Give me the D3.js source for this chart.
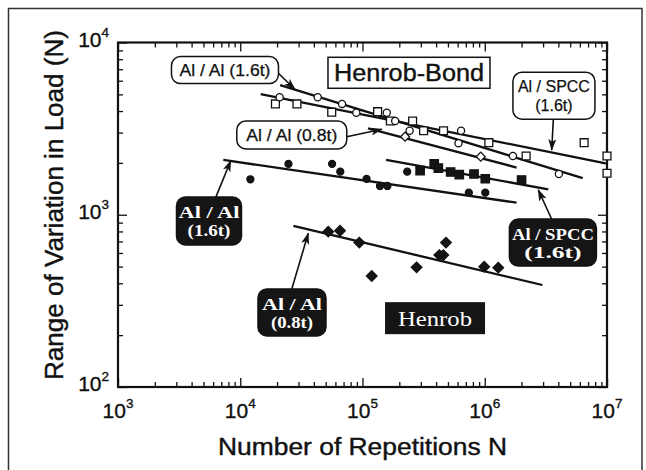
<!DOCTYPE html>
<html><head><meta charset="utf-8">
<script src="https://cdn.jsdelivr.net/npm/d3@7"></script>
<style>body{margin:0;background:#fff}svg{display:block}</style>
</head><body>
<svg id="c" width="646" height="470"></svg>
<script>
// ---------- data (N = repetitions, L = load range in N) ----------
// Henrob-Bond, Al/Al (1.6t) : open circles
const bondAlAl16N = [2.1e4, 4.3e4, 6.8e4, 8.9e4, 1.58e5, 1.85e5, 2.43e5, 6.1e5, 6.4e5, 1.7e6, 4.04e6];
const bondAlAl16L = [4810, 4810, 4400, 3910, 3910, 3500, 3075, 2600, 3075, 2193, 1725];
// Henrob-Bond, Al/SPCC (1.6t) : open squares
const bondSpccN = [1.94e4, 2.91e4, 5.6e4, 1.33e5, 1.69e5, 2.57e5, 3.16e5, 4.6e5, 1.08e6, 2.18e6, 6.5e6, 1.0e7, 1.0e7];
const bondSpccL = [4400, 4400, 3940, 3965, 3500, 3500, 3075, 3075, 2620, 2193, 2620, 2193, 1742];
// Henrob-Bond, Al/Al (0.8t) : open diamonds
const bondAlAl08N = [2.23e5, 9.27e5];
const bondAlAl08L = [2840, 2174];
// Henrob, Al/Al (1.6t) : filled circles
const henAlAl16N = [1.21e4, 2.48e4, 5.64e4, 6.58e4, 1.08e5, 1.39e5, 1.6e5, 2.32e5, 7.41e5, 1.01e6];
const henAlAl16L = [1607, 1972, 1972, 1778, 1614, 1469, 1469, 1778, 1343, 1343];
// Henrob, Al/SPCC (1.6t) : filled squares
const henSpccN = [2.96e5, 3.86e5, 4.17e5, 5.26e5, 6.19e5, 8.17e5, 1.01e6, 2.0e6];
const henSpccL = [1803, 1972, 1866, 1771, 1710, 1725, 1618, 1592];
// Henrob, Al/Al (0.8t) : filled diamonds
const henAlAl08N = [5.25e4, 6.55e4, 9.42e4, 1.19e5, 2.77e5, 4.25e5, 4.58e5, 4.82e5, 9.9e5, 1.29e6];
const henAlAl08L = [798, 807, 689, 441, 495, 583, 583, 689, 499, 493];

// fitted lines: [startN, endN], [startL, endL]
const fitBondAlAl16N = [2.12e4, 6.33e6], fitBondAlAl16L = [5660, 1630];
const fitBondSpccN   = [1.47e4, 9.75e6], fitBondSpccL   = [5020, 1990];
const fitBondAlAl08N = [1.11e5, 1.82e6], fitBondAlAl08L = [3170, 1880];
const fitHenAlAl16N  = [7.27e3, 1.82e6], fitHenAlAl16L  = [2080, 1175];
const fitHenSpccN    = [1.56e5, 3.31e6], fitHenSpccL    = [2080, 1405];
const fitHenAlAl08N  = [2.72e4, 2.96e6], fitHenAlAl08L  = [861, 391];

// tick labels
const xTickVals = [1e3, 1e4, 1e5, 1e6, 1e7];
const xTickExp  = ["3", "4", "5", "6", "7"];
const yTickVals = [1e2, 1e3, 1e4];
const yTickExp  = ["2", "3", "4"];

const xTitle = "Number of Repetitions N";
const yTitle = "Range of Variation in Load (N)";

// annotations: label lines, centre (N, L), arrow tail (N, L), arrow tip (N, L)
const annLabels = [["Al / Al (1.6t)"], ["Al / SPCC", "(1.6t)"], ["Al / Al (0.8t)"],
                   ["Al / Al", "(1.6t)"], ["Al / Al", "(0.8t)"], ["Al / SPCC", "(1.6t)"]];
const annCenterN = [7.5e3, 3.68e6, 2.64e4, 5.55e3, 2.65e4, 3.61e6];
const annCenterL = [6920, 4910, 2905, 921, 271, 689];
const annTailN = [1.99e4, 3.64e6, 7.43e4, 6.34e3, 2.64e4, 3.53e6];
const annTailL = [6760, 3580, 2840, 1274, 371, 942];
const annTipN  = [2.8e4, 3.53e6, 1.44e5, 8.36e3, 3.6e4, 2.74e6];
const annTipL  = [5350, 2377, 3133, 2060, 780, 1393];
const annDark  = [false, false, false, true, true, true];

const groupTitles = ["Henrob-Bond", "Henrob"];
const groupCenterN = [2.4e5, 3.92e5];
const groupCenterL = [6670, 251];

// ---------- drawing ----------
const svg = d3.select("#c");
const M = {left: 118, right: 607, top: 42.5, bottom: 387};
const x = d3.scaleLog().domain([1e3, 1e7]).range([M.left, M.right]);
const y = d3.scaleLog().domain([1e2, 1e4]).range([M.bottom, M.top]);

// outer frame (bottom edge out of view)
svg.append("rect").attr("x", 8.5).attr("y", 8.5).attr("width", 633.5).attr("height", 480)
  .attr("fill", "none").attr("stroke", "#333").attr("stroke-width", 1.5);

// ticks
const minorX = [], minorY = [];
for (let e = 3; e < 7; e++) for (let k = 2; k < 10; k++) minorX.push(k * Math.pow(10, e));
for (let e = 2; e < 4; e++) for (let k = 2; k < 10; k++) minorY.push(k * Math.pow(10, e));
function addAxis(gen, tr) {
  const g = svg.append("g").attr("transform", tr).call(gen);
  g.select(".domain").remove();
  g.selectAll("text").remove();
  g.selectAll("line").attr("stroke", "#111").attr("stroke-width", 1.3);
}
const W = M.right - M.left, H = M.bottom - M.top;
addAxis(d3.axisBottom(x).tickValues(minorX).tickSize(-5), `translate(0,${M.bottom})`);
addAxis(d3.axisBottom(x).tickValues(xTickVals).tickSize(-9), `translate(0,${M.bottom})`);
addAxis(d3.axisTop(x).tickValues(minorX).tickSize(-5), `translate(0,${M.top})`);
addAxis(d3.axisTop(x).tickValues(xTickVals).tickSize(-9), `translate(0,${M.top})`);
addAxis(d3.axisLeft(y).tickValues(minorY).tickSize(-5), `translate(${M.left},0)`);
addAxis(d3.axisLeft(y).tickValues(yTickVals).tickSize(-9), `translate(${M.left},0)`);
addAxis(d3.axisRight(y).tickValues(minorY).tickSize(-5), `translate(${M.right},0)`);
addAxis(d3.axisRight(y).tickValues(yTickVals).tickSize(-9), `translate(${M.right},0)`);

svg.append("rect").attr("x", M.left).attr("y", M.top).attr("width", W).attr("height", H)
  .attr("fill", "none").attr("stroke", "#111").attr("stroke-width", 2.2);

const sans = "Liberation Sans, Arial, Helvetica, sans-serif";
const serif = "Liberation Serif, Times New Roman, serif";

// tick labels
xTickVals.forEach((v, i) => {
  const t = svg.append("text").attr("x", x(v)).attr("y", M.bottom + 31)
    .attr("text-anchor", "middle").attr("font-family", sans).attr("font-size", 21).attr("fill", "#111")
    .attr("stroke", "#111").attr("stroke-width", 0.35);
  t.append("tspan").text("10");
  t.append("tspan").attr("font-size", 13.5).attr("dy", -10).text(xTickExp[i]);
});
yTickVals.forEach((v, i) => {
  const t = svg.append("text").attr("x", 109).attr("y", y(v) + 4)
    .attr("text-anchor", "end").attr("font-family", sans).attr("font-size", 21).attr("fill", "#111")
    .attr("stroke", "#111").attr("stroke-width", 0.35);
  t.append("tspan").text("10");
  t.append("tspan").attr("font-size", 13.5).attr("dy", -10).text(yTickExp[i]);
});

// axis titles
svg.append("text").attr("x", (M.left + M.right) / 2).attr("y", 455)
  .attr("text-anchor", "middle").attr("font-family", sans).attr("font-size", 23).attr("fill", "#111")
  .attr("stroke", "#111").attr("stroke-width", 0.4)
  .attr("textLength", 289).attr("lengthAdjust", "spacingAndGlyphs").text(xTitle);
svg.append("text").attr("transform", `translate(63,${(30 + 380) / 2}) rotate(-90)`)
  .attr("text-anchor", "middle").attr("font-family", sans).attr("font-size", 25).attr("fill", "#111")
  .attr("stroke", "#111").attr("stroke-width", 0.4)
  .attr("textLength", 350).attr("lengthAdjust", "spacingAndGlyphs").text(yTitle);

// fitted lines
const line = d3.line().x(d => x(d[0])).y(d => y(d[1]));
[[fitBondAlAl16N, fitBondAlAl16L], [fitBondSpccN, fitBondSpccL], [fitBondAlAl08N, fitBondAlAl08L],
 [fitHenAlAl16N, fitHenAlAl16L], [fitHenSpccN, fitHenSpccL], [fitHenAlAl08N, fitHenAlAl08L]]
  .forEach(([n, l]) => {
    svg.append("path").attr("d", line(d3.zip(n, l))).attr("fill", "none")
      .attr("stroke", "#111").attr("stroke-width", 2.3);
  });

// markers
function drawPts(ns, ls, type, size, filled, rot) {
  svg.append("g").selectAll("path").data(d3.zip(ns, ls)).join("path")
    .attr("d", d3.symbol().type(type).size(size))
    .attr("transform", d => `translate(${x(d[0])},${y(d[1])}) rotate(${rot})`)
    .attr("fill", filled ? "#151515" : "#fff").attr("stroke", "#111").attr("stroke-width", 1.3);
}
drawPts(henAlAl16N, henAlAl16L, d3.symbolCircle, 38, true, 0);
drawPts(henSpccN, henSpccL, d3.symbolSquare, 70, true, 0);
drawPts(henAlAl08N, henAlAl08L, d3.symbolSquare, 56, true, 45);
drawPts(bondSpccN, bondSpccL, d3.symbolSquare, 62, false, 0);
drawPts(bondAlAl16N, bondAlAl16L, d3.symbolCircle, 40, false, 0);
drawPts(bondAlAl08N, bondAlAl08L, d3.symbolSquare, 40, false, 45);

// arrow marker
svg.append("defs").append("marker").attr("id", "ah").attr("viewBox", "0 0 12 8")
  .attr("refX", 11).attr("refY", 4).attr("markerWidth", 12).attr("markerHeight", 8)
  .attr("markerUnits", "userSpaceOnUse").attr("orient", "auto")
  .append("path").attr("d", "M0,0 L12,4 L0,8 L3,4 Z").attr("fill", "#111");

// annotations
const boxW = [107, 82, 110, 65, 68, 87];
const boxH = [27, 47, 28, 48, 47, 47];
const textW = [91, 73, 91, 61, 60, 82];
annLabels.forEach((lines, i) => {
  const cx = x(annCenterN[i]), cy = y(annCenterL[i]);
  svg.append("line").attr("x1", x(annTailN[i])).attr("y1", y(annTailL[i]))
    .attr("x2", x(annTipN[i])).attr("y2", y(annTipL[i]))
    .attr("stroke", "#111").attr("stroke-width", 1.6).attr("marker-end", "url(#ah)");
  svg.append("rect").attr("x", cx - boxW[i] / 2).attr("y", cy - boxH[i] / 2)
    .attr("width", boxW[i]).attr("height", boxH[i]).attr("rx", 9)
    .attr("fill", annDark[i] ? "#151515" : "#fff").attr("stroke", "#111").attr("stroke-width", 1.5);
  const lh = annDark[i] ? 18 : 19;
  lines.forEach((s, j) => {
    const yy = cy + (j - (lines.length - 1) / 2) * lh;
    const t = svg.append("text").attr("x", cx).attr("y", yy).attr("dy", "0.36em")
      .attr("text-anchor", "middle").text(s)
      .attr("fill", annDark[i] ? "#fff" : "#111");
    if (annDark[i]) {
      t.attr("font-family", serif).attr("font-weight", "bold").attr("font-size", 17);
      t.attr("textLength", j === 0 ? textW[i] : textW[i] * 0.7).attr("lengthAdjust", "spacingAndGlyphs");
    } else {
      t.attr("font-family", sans).attr("font-size", 16).attr("stroke", "#111").attr("stroke-width", 0.25);
      if (lines.length === 1) t.attr("textLength", textW[i]).attr("lengthAdjust", "spacingAndGlyphs");
    }
  });
});

// group titles
{
  const cx = x(groupCenterN[0]), cy = y(groupCenterL[0]);
  svg.append("rect").attr("x", cx - 81).attr("y", cy - 15.5).attr("width", 162).attr("height", 31)
    .attr("fill", "#fff").attr("stroke", "#111").attr("stroke-width", 1.5);
  svg.append("text").attr("x", cx).attr("y", cy).attr("dy", "0.36em").attr("text-anchor", "middle")
    .attr("font-family", sans).attr("font-size", 23.5).attr("fill", "#111")
    .attr("stroke", "#111").attr("stroke-width", 0.4)
    .attr("textLength", 150).attr("lengthAdjust", "spacingAndGlyphs").text(groupTitles[0]);
}
{
  const cx = x(groupCenterN[1]), cy = y(groupCenterL[1]);
  svg.append("rect").attr("x", cx - 50).attr("y", cy - 16).attr("width", 100).attr("height", 32)
    .attr("fill", "#151515");
  svg.append("text").attr("x", cx).attr("y", cy).attr("dy", "0.36em").attr("text-anchor", "middle")
    .attr("font-family", serif).attr("font-size", 21).attr("fill", "#fff")
    .attr("textLength", 74).attr("lengthAdjust", "spacingAndGlyphs").text(groupTitles[1]);
}
</script>
</body></html>
